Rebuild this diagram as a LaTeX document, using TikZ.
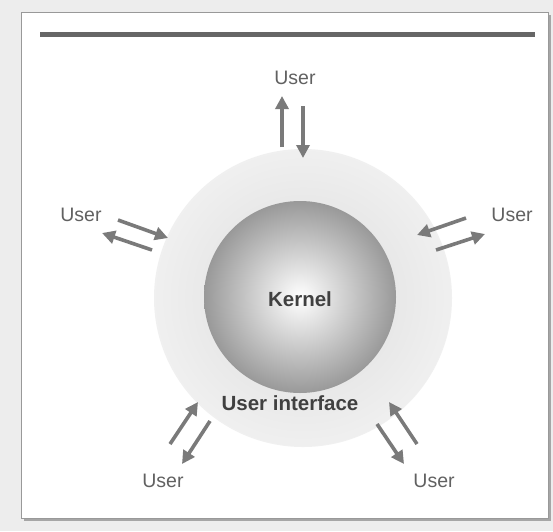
\documentclass[tikz,border=0pt]{standalone}
\usepackage{fontspec}
\setmainfont{Liberation Sans}
\usetikzlibrary{arrows.meta, positioning, shadows}

\begin{document}
\begin{tikzpicture}[x=1pt,y=-1pt]
    \tikzstyle{flow}=[draw=black!52, line width=3.6pt, -{Triangle[length=13pt,width=13pt]}, shorten >=0pt]
    \tikzstyle{user}=[text=black!62, font=\fontsize{19.5}{22}\selectfont, inner sep=1pt]
    \tikzstyle{label}=[text=black!75, font=\bfseries\fontsize{20.5}{23}\selectfont, inner sep=1pt]

    % page background and panel
    \fill[black!7] (0,0) rectangle (553,531);
    \fill[black!35] (24,15) rectangle (551,521);
    \fill[white, draw=black!40, line width=1pt] (21,12) rectangle (548,518);
    \draw[black!60, line width=5pt] (40,34) -- (535,34);

    % the two layers
    \node[circle, minimum size=298pt, inner sep=0pt, draw=none,
          inner color=black!14, outer color=black!6] (UI) at (303,298) {};
    \node[circle, minimum size=192pt, inner sep=0pt, draw=none,
          shading=radial, inner color=white, outer color=black!40] (K) at (300,297) {};
    \node[label] (Kt) at (300,299) {Kernel};
    \node[label] (UIt) at (290,403) {User interface};

    % users
    \node[user] (U1) at (295,78) {User};
    \node[user] (U2) at (81,215) {User};
    \node[user] (U3) at (512,215) {User};
    \node[user] (U4) at (163,481) {User};
    \node[user] (U5) at (434,481) {User};

    % arrow end points
    \coordinate (a1) at (282,147); \coordinate (b1) at (282,96);
    \coordinate (c1) at (303,106); \coordinate (d1) at (303,158);
    \coordinate (a2) at (118,220); \coordinate (b2) at (168,238);
    \coordinate (c2) at (152,250); \coordinate (d2) at (102,233);
    \coordinate (a3) at (466,218); \coordinate (b3) at (417,235);
    \coordinate (c3) at (436,250); \coordinate (d3) at (485,234);
    \coordinate (a4) at (170,444); \coordinate (b4) at (198,402);
    \coordinate (c4) at (210,421); \coordinate (d4) at (182,464);
    \coordinate (a5) at (417,444); \coordinate (b5) at (389,402);
    \coordinate (c5) at (377,424); \coordinate (d5) at (404,464);

    \foreach \i in {1,...,5}{
        \draw[flow] (a\i) -- (b\i);
        \draw[flow] (c\i) -- (d\i);
    }
\end{tikzpicture}
\end{document}
